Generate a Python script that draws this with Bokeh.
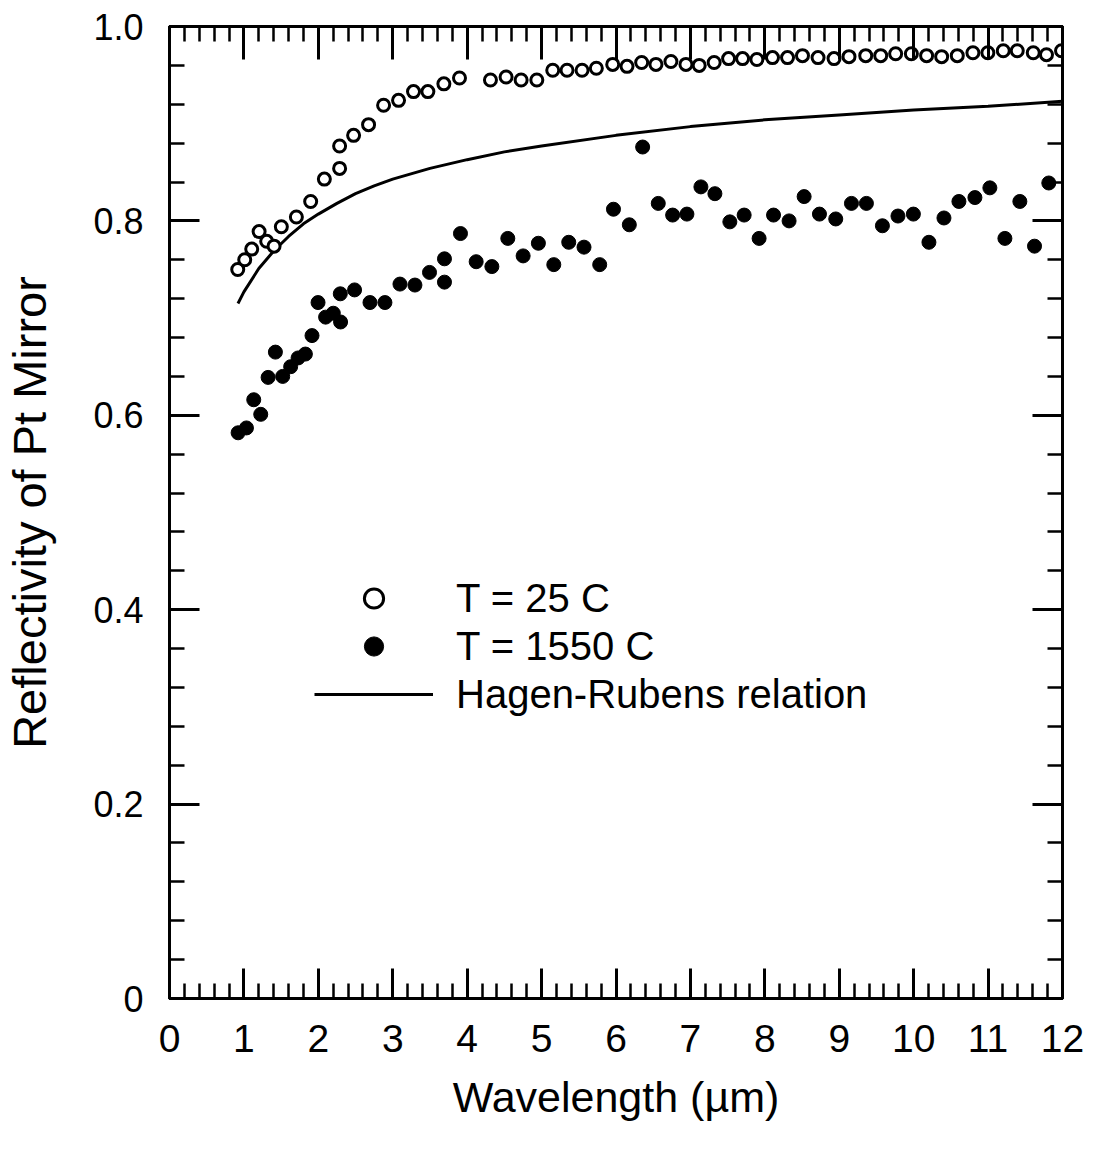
from bokeh.plotting import figure
from bokeh.models import (LinearAxis, FixedTicker, CustomJSTickFormatter, Legend,
                          LegendItem, Range1d)
from bokeh.embed import file_html
from bokeh.resources import INLINE

# ---------------- data ----------------
wl_25 = [0.917, 1.011, 1.105, 1.204, 1.306, 1.405, 1.503, 1.705, 1.897, 2.081,
         2.286, 2.286, 2.474, 2.675, 2.877, 3.078, 3.279, 3.472, 3.687, 3.897,
         4.313, 4.523, 4.725, 4.936, 5.150, 5.342, 5.544, 5.736, 5.956, 6.148,
         6.345, 6.537, 6.738, 6.940, 7.118, 7.319, 7.513, 7.701, 7.893, 8.103,
         8.305, 8.506, 8.715, 8.930, 9.131, 9.356, 9.557, 9.758, 9.969, 10.174,
         10.376, 10.586, 10.796, 10.997, 11.204, 11.392, 11.607, 11.785, 11.987]
refl_25 = [0.750, 0.760, 0.771, 0.789, 0.779, 0.774, 0.794, 0.804, 0.820, 0.843,
           0.854, 0.877, 0.888, 0.899, 0.919, 0.924, 0.933, 0.933, 0.941, 0.947,
           0.945, 0.948, 0.945, 0.945, 0.955, 0.955, 0.955, 0.957, 0.961, 0.959,
           0.963, 0.961, 0.964, 0.961, 0.960, 0.963, 0.967, 0.967, 0.966, 0.968,
           0.968, 0.970, 0.968, 0.967, 0.969, 0.970, 0.970, 0.972, 0.972, 0.970,
           0.969, 0.970, 0.973, 0.973, 0.975, 0.975, 0.973, 0.971, 0.975]

wl_1550 = [0.922, 1.034, 1.132, 1.226, 1.325, 1.423, 1.521, 1.628, 1.728, 1.826,
           1.915, 1.996, 2.098, 2.201, 2.299, 2.295, 2.487, 2.694, 2.895, 3.097,
           3.298, 3.494, 3.695, 3.695, 3.910, 4.121, 4.332, 4.546, 4.752, 4.957,
           5.164, 5.365, 5.570, 5.781, 5.966, 6.179, 6.358, 6.568, 6.761, 6.953,
           7.141, 7.329, 7.530, 7.722, 7.923, 8.117, 8.326, 8.528, 8.734, 8.953,
           9.164, 9.365, 9.580, 9.789, 9.996, 10.205, 10.407, 10.608, 10.823, 11.024,
           11.226, 11.427, 11.624, 11.816]
refl_1550 = [0.582, 0.587, 0.616, 0.601, 0.639, 0.665, 0.640, 0.650, 0.659, 0.663,
             0.682, 0.716, 0.701, 0.705, 0.696, 0.725, 0.729, 0.716, 0.716, 0.735,
             0.734, 0.747, 0.761, 0.737, 0.787, 0.758, 0.753, 0.782, 0.764, 0.777,
             0.755, 0.778, 0.773, 0.755, 0.812, 0.796, 0.876, 0.818, 0.806, 0.807,
             0.835, 0.828, 0.799, 0.806, 0.782, 0.806, 0.800, 0.825, 0.807, 0.802,
             0.818, 0.818, 0.795, 0.805, 0.807, 0.778, 0.803, 0.820, 0.824, 0.834,
             0.782, 0.820, 0.774, 0.839]

wl_hr = [0.92, 1.0, 1.2, 1.4, 1.6, 1.8, 2.0, 2.25, 2.5, 2.75, 3.0, 3.5, 4.0,
         4.5, 5.0, 6.0, 7.0, 8.0, 9.0, 10.0, 11.0, 12.0]
refl_hr = [0.715, 0.727, 0.751, 0.769, 0.784, 0.797, 0.807, 0.818, 0.828, 0.836,
           0.843, 0.854, 0.863, 0.871, 0.877, 0.888, 0.897, 0.904, 0.909, 0.914,
           0.918, 0.923]

x_ticks = list(range(13))
y_ticks = [0, 0.2, 0.4, 0.6, 0.8, 1.0]
labels = ["T = 25 C", "T = 1550 C", "Hagen-Rubens relation"]
x_title = "Wavelength (\u00b5m)"
y_title = "Reflectivity of Pt Mirror"

FONT = "Liberation Sans"

p = figure(width=1093, height=1143, x_range=Range1d(0, 12), y_range=Range1d(0, 1),
           output_backend="svg", toolbar_location=None,
           min_border_left=168, min_border_right=31, min_border_top=26,
           min_border_bottom=145)
p.grid.visible = False
p.outline_line_color = "black"
p.outline_line_width = 3
p.background_fill_color = "white"
p.border_fill_color = "white"

x_minor = [i * 0.2 for i in range(61)]
y_minor = [i * 0.04 for i in range(26)]
yfmt = CustomJSTickFormatter(code="return tick == 0 ? '0' : tick.toFixed(1);")
blank = CustomJSTickFormatter(code="return '';")


def style(ax):
    ax.axis_line_width = 3
    ax.axis_line_color = "black"
    ax.major_tick_in = 30
    ax.major_tick_out = 0
    ax.minor_tick_in = 15
    ax.minor_tick_out = 0
    ax.major_tick_line_width = 3
    ax.minor_tick_line_width = 2.5
    ax.major_tick_line_color = "black"
    ax.minor_tick_line_color = "black"
    ax.major_label_text_font = FONT
    ax.major_label_text_color = "black"
    ax.axis_label_text_font = FONT
    ax.axis_label_text_font_style = "normal"
    ax.axis_label_text_color = "black"


xa = p.xaxis[0]
xa.ticker = FixedTicker(ticks=x_ticks, minor_ticks=x_minor)
style(xa)
xa.major_label_text_font_size = "39px"
xa.major_label_standoff = 26
xa.axis_label = x_title
xa.axis_label_text_font_size = "43px"
xa.axis_label_standoff = 18

ya = p.yaxis[0]
ya.ticker = FixedTicker(ticks=y_ticks, minor_ticks=y_minor)
ya.formatter = yfmt
style(ya)
ya.major_label_text_font_size = "36px"
ya.major_label_standoff = 26
ya.axis_label = y_title
ya.axis_label_text_font_size = "47px"
ya.axis_label_standoff = 34

top = LinearAxis(ticker=FixedTicker(ticks=x_ticks, minor_ticks=x_minor), formatter=blank)
style(top)
top.major_label_standoff = 0
top.major_tick_in = 33
p.add_layout(top, "above")

right = LinearAxis(ticker=FixedTicker(ticks=y_ticks, minor_ticks=y_minor), formatter=blank)
style(right)
right.major_label_standoff = 0
p.add_layout(right, "right")

hr = p.line(wl_hr, refl_hr, line_color="black", line_width=3)
o25 = p.scatter(wl_25, refl_25, marker="circle", size=12, fill_color="white",
                line_color="black", line_width=3)
f1550 = p.scatter(wl_1550, refl_1550, marker="circle", size=14, fill_color="black",
                  line_color="black", line_width=1)

legend = Legend(items=[LegendItem(label=labels[0], renderers=[o25]),
                       LegendItem(label=labels[1], renderers=[f1550]),
                       LegendItem(label=labels[2], renderers=[hr])],
                location=(145, 280), glyph_width=119, glyph_height=48, spacing=0,
                label_standoff=23, padding=0, margin=0,
                border_line_color=None, background_fill_alpha=0,
                label_text_font=FONT, label_text_font_size="40px",
                label_text_color="black")
p.add_layout(legend)

open("out.html", "w").write(file_html(p, INLINE))
